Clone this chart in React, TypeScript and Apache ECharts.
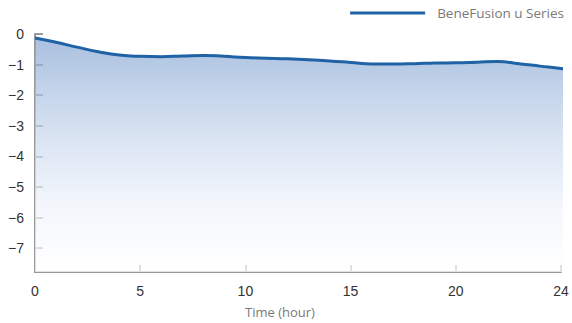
import React, { useEffect, useRef } from "react";
import * as echarts from "echarts";

const hours = [0, 1, 2, 3, 4, 5, 6, 7, 8, 9, 10, 11, 12, 13, 14, 15, 16, 17, 18, 19, 20, 21, 22, 23, 24, 25, 25.3];
const values = [-0.13, -0.27, -0.43, -0.58, -0.69, -0.73, -0.74, -0.72, -0.7, -0.73, -0.77, -0.79, -0.81, -0.84, -0.88, -0.93, -0.98, -0.98, -0.97, -0.95, -0.94, -0.92, -0.9, -0.97, -1.05, -1.13, -1.16];
const yTicks = [0, -1, -2, -3, -4, -5, -6, -7];
const seriesName = "BeneFusion u Series";

export default function App() {
  const ref = useRef<HTMLDivElement>(null);
  useEffect(() => {
    if (!ref.current) return;
    const chart = echarts.init(ref.current, null, { renderer: "svg" });
    const data = hours.map((h, i) => [h, values[i]]);
    chart.setOption({
      animation: false,
      backgroundColor: "#ffffff",
      legend: {
        data: [{ name: seriesName, icon: "rect" }],
        top: 1,
        right: 3,
        itemWidth: 75,
        itemHeight: 3,
        itemGap: 10,
        textStyle: { fontFamily: "Open Sans", fontSize: 13.5, color: "#7a7a7a", padding: [0, 0, 0, 7] },
      },
      grid: { left: 35, right: 11, top: 34, bottom: 44 },
      xAxis: {
        type: "value",
        min: 0,
        max: 25,
        interval: 5,
        name: "Time (hour)",
        nameLocation: "middle",
        nameGap: 33,
        nameTextStyle: { fontFamily: "Open Sans", fontSize: 13, color: "#7a7a7a", padding: [0, 36, 0, 0] },
        axisLine: { onZero: false, lineStyle: { color: "#999", width: 2 } },
        axisTick: { inside: true, length: 7, lineStyle: { color: "#999", width: 2 } },
        axisLabel: {
          fontFamily: "Liberation Sans",
          fontSize: 14,
          color: "#333",
          margin: 12,
          formatter: (v: number) => (v === 25 ? "24" : String(v)),
        },
        splitLine: { show: false },
      },
      yAxis: {
        type: "value",
        min: -7.78,
        max: 0,
        axisLine: { show: true, onZero: false, lineStyle: { color: "#999", width: 2 } },
        axisTick: { show: true, inside: true, length: 8, customValues: yTicks, lineStyle: { color: "#999", width: 2 } },
        axisLabel: {
          fontFamily: "Liberation Sans",
          fontSize: 14,
          color: "#333",
          margin: 11,
          customValues: yTicks,
          formatter: (v: number) => (v < 0 ? "\u2212" + Math.abs(v) : String(v)),
        },
        splitLine: { show: false },
      },
      series: [
        {
          name: seriesName,
          type: "line",
          data,
          smooth: true,
          clip: false,
          showSymbol: false,
          symbol: "none",
          itemStyle: { color: "#1f62a5" },
          lineStyle: { color: "#1f62a5", width: 3 },
          areaStyle: {
            color: new echarts.graphic.LinearGradient(0, 0, 0, 1, [
              { offset: 0, color: "#86a6d3" },
              { offset: 0.4, color: "#c6d6ec" },
              { offset: 0.7, color: "#edf2fa" },
              { offset: 1, color: "#ffffff" },
            ]),
            origin: "start",
          },
        },
      ],
    });
    return () => chart.dispose();
  }, []);
  return (
    <div
      ref={ref}
      style={{ position: "absolute", left: 0, top: 0, width: 572, height: 323 }}
    />
  );
}
